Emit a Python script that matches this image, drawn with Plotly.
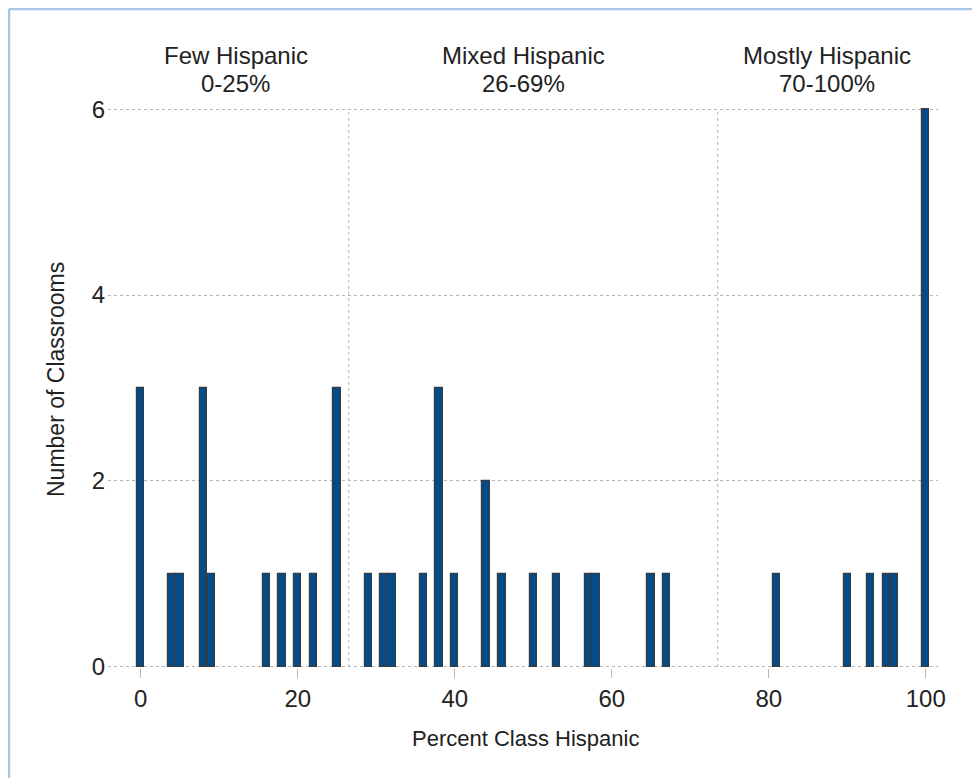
import plotly.graph_objects as go

# Data
pct_hispanic = [0, 4, 5, 8, 9, 16, 18, 20, 22, 25,
                29, 31, 32, 36, 38, 40, 44, 46, 50, 53, 57, 58, 65, 67,
                81, 90, 93, 95, 96, 100]
n_classrooms = [3, 1, 1, 3, 1, 1, 1, 1, 1, 3,
                1, 1, 1, 1, 3, 1, 2, 1, 1, 1, 1, 1, 1, 1,
                1, 1, 1, 1, 1, 6]
group_names = ["Few Hispanic", "Mixed Hispanic", "Mostly Hispanic"]
group_ranges = ["0-25%", "26-69%", "70-100%"]
group_centers = [12.1, 48.8, 87.4]
group_dividers = [26.5, 73.5]
x_ticks = [0, 20, 40, 60, 80, 100]
y_ticks = [0, 2, 4, 6]

FONT = "Liberation Sans, Arial, sans-serif"
TXT = "#222222"
GRID = "#b4b4b4"

fig = go.Figure()
fig.add_trace(go.Bar(
    x=pct_hispanic, y=n_classrooms, width=0.94,
    marker=dict(color="#034C8C", line=dict(color="#3a3a3a", width=1.2)),
    showlegend=False,
))

for d in group_dividers:
    fig.add_shape(type="line", xref="x", yref="y", x0=d, x1=d, y0=0, y1=6,
                  line=dict(color=GRID, width=1, dash="dot"), layer="below")

for name, rng, c in zip(group_names, group_ranges, group_centers):
    fig.add_annotation(x=c, xref="x", y=1.0938, yref="paper", yanchor="middle",
                       text=name, showarrow=False,
                       font=dict(family=FONT, size=24, color=TXT))
    fig.add_annotation(x=c, xref="x", y=1.0429, yref="paper", yanchor="middle",
                       text=rng, showarrow=False,
                       font=dict(family=FONT, size=24, color=TXT))

# axis titles
fig.add_annotation(x=0.5036, xref="paper", y=-0.125, yref="paper", yanchor="middle",
                   text="Percent Class Hispanic", showarrow=False,
                   font=dict(family=FONT, size=22, color=TXT))
fig.add_annotation(x=-0.0627, xref="paper", y=0.516, yref="paper", xanchor="center",
                   yanchor="middle", textangle=-90,
                   text="Number of Classrooms", showarrow=False,
                   font=dict(family=FONT, size=23, color=TXT))

# light blue frame (left and top edges visible)
fig.add_shape(type="line", xref="paper", yref="paper", x0=-0.1193, x1=-0.1193,
              y0=-0.3, y1=1.1768, line=dict(color="#a9c6ea", width=2.5))
fig.add_shape(type="line", xref="paper", yref="paper", x0=-0.1193, x1=1.2,
              y0=1.1768, y1=1.1768, line=dict(color="#a9c6ea", width=2.5))

fig.update_layout(
    width=980, height=778,
    margin=dict(l=100, r=50, t=100, b=118),
    paper_bgcolor="white", plot_bgcolor="white",
    font=dict(family=FONT, color=TXT),
    bargap=0,
)
fig.update_xaxes(range=[-4.17, 101.56], tickvals=x_ticks, showgrid=False, zeroline=False,
                 ticks="outside", ticklen=9, tickcolor=GRID,
                 tickfont=dict(size=24, color=TXT), showline=False)
fig.update_yaxes(range=[-0.012, 6.012], tickvals=y_ticks, showgrid=True, gridcolor=GRID,
                 griddash="dot", gridwidth=1, zeroline=False,
                 tickfont=dict(size=24, color=TXT),
                 showline=False, ticks="", ticklabelstandoff=2)

fig.write_html("out.html")
